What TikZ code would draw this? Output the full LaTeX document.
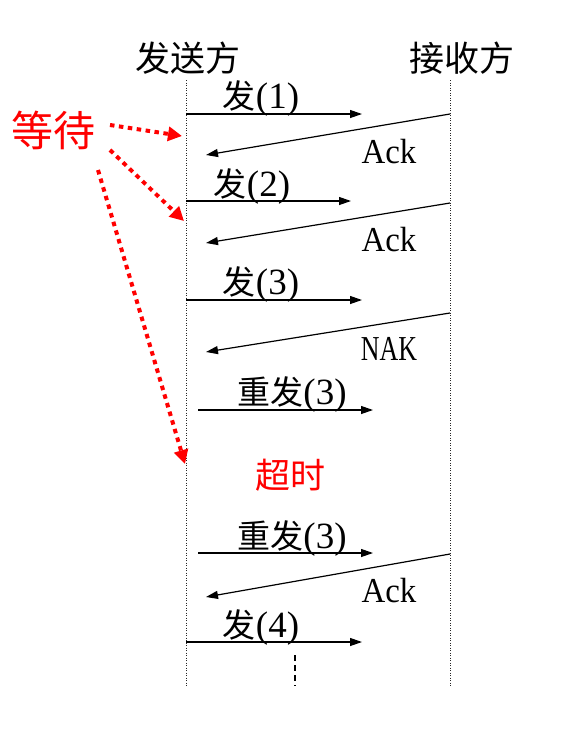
\documentclass[tikz,border=0pt]{standalone}
\usepackage{fontspec}
\setmainfont{Liberation Serif}
\newfontfamily\cjk{Noto Sans CJK SC}
\usetikzlibrary{arrows.meta}
\newcommand{\zh}[1]{{\cjk\fontsize{33}{33}\selectfont #1}}
\begin{document}
\begin{tikzpicture}[x=1pt,y=-1pt,
  msg/.style={line width=1.2pt,-{Triangle[length=12pt,width=8pt]}},
  life/.style={line width=0.9pt,dash pattern=on 1pt off 1.5pt,black!85},
  waitarrow/.style={red,line width=4pt,dash pattern=on 4.5pt off 4.5pt,-{Triangle[length=14pt,width=14pt]}},
  lbl/.style={font=\fontsize{37}{37}\selectfont,inner sep=0pt,anchor=base},
  ttl/.style={font=\cjk\fontsize{35}{35}\selectfont,inner sep=0pt},
  acklbl/.style={font=\fontsize{35}{35}\selectfont,inner sep=0pt,anchor=base},
  redlbl/.style={red,inner sep=0pt}
]
\useasboundingbox (0,0) rectangle (568,732);
% titles
\node[ttl] (snd) at (188,58) {发送方};
\node[ttl] (rcv) at (462,58) {接收方};
% lifelines
\coordinate (lt) at (186,80); \coordinate (lb) at (186,686);
\coordinate (rt) at (450,80); \coordinate (rb) at (450,686);
\draw[life] (lt) -- (lb);
\draw[life] (rt) -- (rb);
% 1
\coordinate (a1s) at (186,114); \coordinate (a1e) at (362,114);
\node[lbl] (t1) at (261,108) {\zh{发}(1)};
\draw[msg] (a1s) -- (a1e);
\coordinate (b1s) at (450,114); \coordinate (b1e) at (206,155);
\draw[msg] (b1s) -- (b1e);
\node[acklbl] (k1) at (389,163) {\scalebox{0.94}[1]{Ack}};
% 2
\coordinate (a2s) at (186,201); \coordinate (a2e) at (351,201);
\node[lbl] (t2) at (252,196) {\zh{发}(2)};
\draw[msg] (a2s) -- (a2e);
\coordinate (b2s) at (450,203); \coordinate (b2e) at (206,243);
\draw[msg] (b2s) -- (b2e);
\node[acklbl] (k2) at (389,251) {\scalebox{0.94}[1]{Ack}};
% 3
\coordinate (a3s) at (186,300); \coordinate (a3e) at (362,300);
\node[lbl] (t3) at (261,294) {\zh{发}(3)};
\draw[msg] (a3s) -- (a3e);
\coordinate (b3s) at (450,313); \coordinate (b3e) at (206,352);
\draw[msg] (b3s) -- (b3e);
\node[acklbl] (k3) at (389,360) {\scalebox{0.74}[1]{NAK}};
% resend 3
\coordinate (a4s) at (198,410); \coordinate (a4e) at (373,410);
\node[lbl] (t4) at (292,404) {\zh{重发}(3)};
\draw[msg] (a4s) -- (a4e);
% timeout
\node[redlbl,font=\cjk\fontsize{35}{35}\selectfont] (to) at (290,475) {超时};
% resend 3 again
\coordinate (a5s) at (198,553); \coordinate (a5e) at (373,553);
\node[lbl] (t5) at (292,548) {\zh{重发}(3)};
\draw[msg] (a5s) -- (a5e);
\coordinate (b5s) at (450,554); \coordinate (b5e) at (206,597);
\draw[msg] (b5s) -- (b5e);
\node[acklbl] (k5) at (389,602) {\scalebox{0.94}[1]{Ack}};
% 4
\coordinate (a6s) at (186,642); \coordinate (a6e) at (362,642);
\node[lbl] (t6) at (261,637) {\zh{发}(4)};
\draw[msg] (a6s) -- (a6e);
% continuation
\coordinate (ds) at (295,655); \coordinate (de) at (295,686);
\draw[line width=1.2pt,dash pattern=on 6pt off 4pt] (ds) -- (de);
% waiting
\node[redlbl,font=\cjk\fontsize{42}{42}\selectfont] (wt) at (54,130) {等待};
\coordinate (w1s) at (110,125); \coordinate (w1e) at (182,136);
\coordinate (w2s) at (110,150); \coordinate (w2e) at (184,221);
\coordinate (w3s) at (98,170); \coordinate (w3e) at (185,464);
\draw[waitarrow] (w1s) -- (w1e);
\draw[waitarrow] (w2s) -- (w2e);
\draw[waitarrow] (w3s) -- (w3e);
\end{tikzpicture}
\end{document}
